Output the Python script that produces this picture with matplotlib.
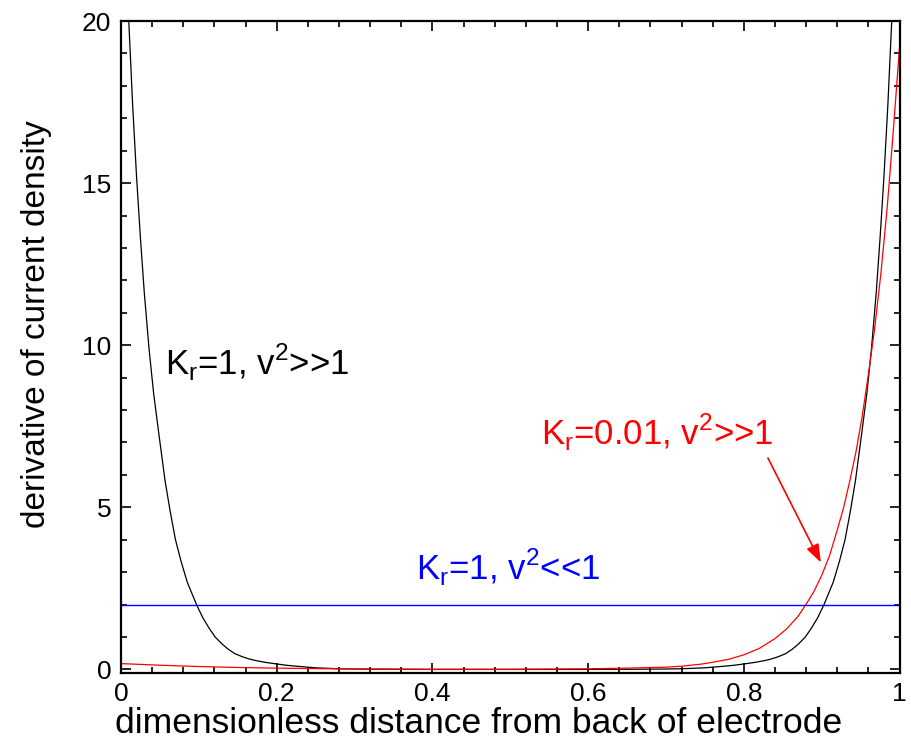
import matplotlib.pyplot as plt
from matplotlib.ticker import MultipleLocator

# values
x_black = [0.0, 0.005, 0.010, 0.015, 0.020, 0.025, 0.030, 0.036, 0.042, 0.049, 0.0565,
           0.063, 0.070, 0.077, 0.085, 0.091, 0.097, 0.105, 0.113, 0.121, 0.130, 0.138,
           0.146, 0.156, 0.165, 0.172, 0.185, 0.198, 0.212, 0.225, 0.25, 0.28, 0.32,
           0.40, 0.50, 0.60, 0.68, 0.72, 0.75, 0.775, 0.788, 0.802, 0.815, 0.828, 0.835,
           0.844, 0.854, 0.862, 0.870, 0.879, 0.887, 0.895, 0.903, 0.909, 0.915, 0.923,
           0.930, 0.937, 0.9435, 0.951, 0.958, 0.964, 0.970, 0.975, 0.980, 0.985,
           0.990, 0.995, 1.0]
y_black = [26.5, 23.0, 20.0, 17.4, 15.2, 13.3, 11.6, 9.9, 8.5, 7.2, 5.84,
           4.9, 4.0, 3.35, 2.7, 2.35, 2.0, 1.6, 1.28, 1.0, 0.78, 0.62,
           0.49, 0.39, 0.32, 0.28, 0.22, 0.175, 0.13, 0.10, 0.05, 0.02, 0.008,
           0.0, 0.0, 0.0, 0.008, 0.02, 0.05, 0.10, 0.13, 0.175, 0.22, 0.28, 0.32,
           0.39, 0.49, 0.62, 0.78, 1.0, 1.28, 1.6, 2.0, 2.35, 2.7, 3.35,
           4.0, 4.9, 5.84, 7.2, 8.5, 9.9, 11.6, 13.3, 15.2, 17.4,
           20.0, 23.0, 26.5]

x_red = [0.0, 0.05, 0.10, 0.15, 0.20, 0.25, 0.30, 0.40, 0.50, 0.60, 0.65, 0.70, 0.72,
         0.744, 0.76, 0.78, 0.80, 0.82, 0.84, 0.855, 0.87, 0.881, 0.89, 0.90, 0.91,
         0.92, 0.928, 0.936, 0.944, 0.952, 0.960, 0.968, 0.976, 0.984, 0.992, 1.0]
y_red = [0.18, 0.13, 0.09, 0.06, 0.04, 0.025, 0.015, 0.005, 0.005, 0.02, 0.04, 0.07, 0.10,
         0.16, 0.22, 0.31, 0.45, 0.65, 0.95, 1.25, 1.65, 2.05, 2.4, 2.9, 3.5,
         4.3, 4.97, 5.8, 6.7, 7.8, 9.1, 10.5, 12.2, 14.2, 16.6, 19.2]

x_blue = [0.0, 1.0]
y_blue = [2.0, 2.0]

plt.rcParams["font.family"] = ["Liberation Sans", "DejaVu Sans"]

fig = plt.figure(figsize=(9.11, 7.48), dpi=100)
ax = fig.add_axes([0.1328, 0.1007, 0.8546, 0.8712])

ax.plot(x_black, y_black, color="black", lw=0.9)
ax.plot(x_red, y_red, color="#ff0000", lw=0.9)
ax.plot(x_blue, y_blue, color="#0000ff", lw=1.0)

ax.set_xlim(0, 1)
ax.set_ylim(-0.1, 20)
ax.xaxis.set_major_locator(MultipleLocator(0.2))
ax.xaxis.set_minor_locator(MultipleLocator(0.04))
ax.yaxis.set_major_locator(MultipleLocator(5))
ax.yaxis.set_minor_locator(MultipleLocator(1))
ax.set_xticks([0, 0.2, 0.4, 0.6, 0.8, 1.0])
ax.set_xticklabels(["0", "0.2", "0.4", "0.6", "0.8", "1"])
ax.tick_params(which="both", direction="in", top=True, right=True, labelsize=19, width=1.2)
ax.tick_params(which="major", length=7, pad=7)
ax.tick_params(which="minor", length=4)
for s in ax.spines.values():
    s.set_linewidth(1.6)

ax.set_xlabel("dimensionless distance from back of electrode", fontsize=25.5)
ax.xaxis.set_label_coords(0.459, -0.052)
ax.set_ylabel("derivative of current density", fontsize=24)
ax.yaxis.set_label_coords(-0.088, 0.535)

ax.text(0.0565, 9.08, r"K$_\mathregular{r}$=1, v$^\mathregular{2}$>>1", fontsize=25,
        color="black", va="baseline")
ax.text(0.379, 2.78, r"K$_\mathregular{r}$=1, v$^\mathregular{2}$<<1", fontsize=25,
        color="#0000ff", va="baseline")
ax.text(0.539, 6.94, r"K$_\mathregular{r}$=0.01, v$^\mathregular{2}$>>1", fontsize=25,
        color="#ff0000", va="baseline")
ax.annotate("", xy=(0.899, 3.3), xytext=(0.831, 6.52),
            arrowprops=dict(arrowstyle="-|>,head_length=1.1,head_width=0.4",
                            color="#ff0000", lw=1.2, shrinkA=0, shrinkB=0))

fig.savefig("out.png", dpi=100, facecolor="white")
